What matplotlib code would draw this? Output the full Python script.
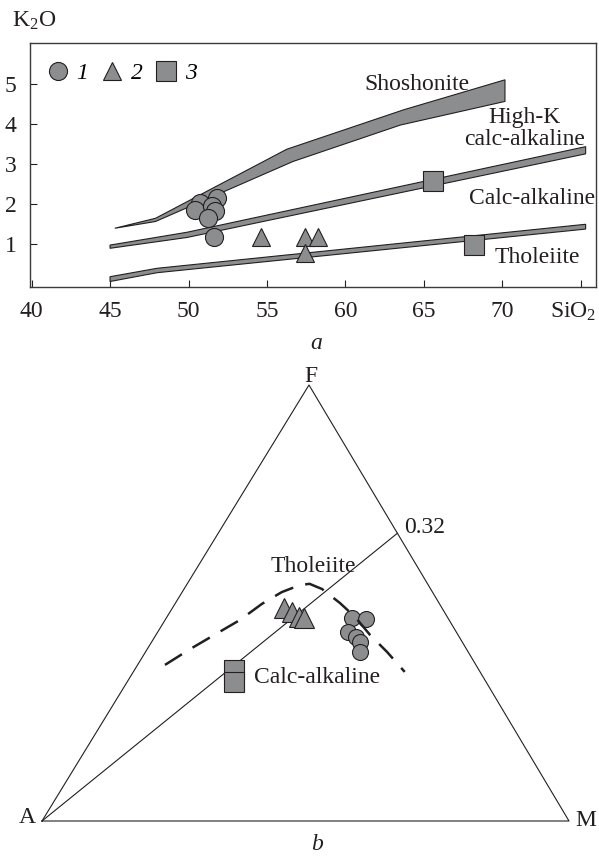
import matplotlib
matplotlib.use('Agg')
import matplotlib.pyplot as plt
from matplotlib.transforms import ScaledTranslation

plt.rcParams['font.family'] = ['Liberation Serif', 'DejaVu Serif']
plt.rcParams['mathtext.fontset'] = 'custom'
plt.rcParams['mathtext.rm'] = 'Liberation Serif'
plt.rcParams['mathtext.it'] = 'Liberation Serif:italic'

INK = '#231f20'
GREY = '#8c8d8f'
W, H = 599, 856
FS = 17

# ---- a: K2O vs SiO2 ----
sio2_1 = [50.73, 51.80, 50.41, 51.48, 51.69, 51.26, 51.62]
k2o_1 = [2.04, 2.15, 1.86, 1.96, 1.82, 1.65, 1.19]
sio2_2 = [54.6, 57.42, 58.27, 57.42]
k2o_2 = [1.17, 1.17, 1.17, 0.78]
sio2_3 = [65.55, 68.2]
k2o_3 = [2.57, 0.97]

# boundary bands: upper edge left->right, then lower edge back
shosh_x = [45.3, 47.9, 56.26, 63.7, 70.16, 70.16, 63.5, 56.66, 47.9]
shosh_y = [1.40, 1.65, 3.375, 4.36, 5.11, 4.57, 3.98, 3.07, 1.57]
highk_x = [45.0, 49.9, 75.3, 75.3, 49.9, 45.0]
highk_y = [0.98, 1.30, 3.44, 3.26, 1.17, 0.90]
thol_x = [45.0, 48.0, 75.3, 75.3, 48.0, 45.0]
thol_y = [0.19, 0.40, 1.50, 1.38, 0.29, 0.07]

x_ticks = [40, 45, 50, 55, 60, 65, 70, 75]
x_labels = ['40', '45', '50', '55', '60', '65', '70', 'SiO$_2$']
y_ticks = [1, 2, 3, 4, 5]

# ---- b: AFM diagram, (A, F, M) in % ----
afm_1 = [(18.3, 46.5, 35.2), (15.7, 46.3, 38.0), (20.5, 43.4, 36.1),
         (19.6, 42.3, 38.1), (19.4, 41.1, 39.5), (20.5, 38.8, 40.7)]
afm_2 = [(30.0, 48.9, 21.1), (28.9, 47.9, 23.2), (28.2, 46.8, 25.0),
         (27.3, 46.6, 26.1)]
afm_3 = [(46.5, 34.7, 18.8), (47.9, 31.8, 20.3)]
# tholeiite / calc-alkaline boundary (dashed)
afm_curve = [(59.0, 35.8, 5.2), (52.5, 39.4, 8.1), (46.2, 42.7, 11.1),
             (39.7, 46.1, 14.2), (33.7, 49.8, 16.5), (28.6, 52.5, 18.9),
             (24.4, 54.1, 21.5), (22.4, 54.4, 23.2), (20.6, 53.2, 26.2),
             (18.8, 50.0, 31.2), (17.5, 46.8, 35.7), (16.7, 42.7, 40.6),
             (15.4, 38.8, 45.8), (14.3, 34.2, 51.5)]
# straight line from A to the F-M side
afm_line = [(100, 0, 0), (0, 66, 34)]

F_X = 0.5066  # horizontal position of the F apex


def tern(pts):
    xs, ys = [], []
    for a, f, m in pts:
        s = a + f + m
        xs.append(m / s + f / s * F_X)
        ys.append(f / s)
    return xs, ys


def fpx(x, y):
    return x / W, 1 - y / H


fig = plt.figure(figsize=(W / 100, H / 100), dpi=100)

# top panel
ax = fig.add_axes([30 / W, 1 - 287 / H, 566 / W, 244 / H])
for bx_, by_ in [(shosh_x, shosh_y), (highk_x, highk_y), (thol_x, thol_y)]:
    ax.fill(bx_, by_, facecolor=GREY, edgecolor=INK, lw=0.8, zorder=2)

mk = dict(linestyle='none', markerfacecolor=GREY, markeredgecolor=INK,
          markeredgewidth=0.8, zorder=3)
ax.plot(sio2_1, k2o_1, marker='o', ms=13, label='1', **mk)
ax.plot(sio2_2, k2o_2, marker='^', ms=13, label='2', **mk)
ax.plot(sio2_3, k2o_3, marker='s', ms=14.5, label='3', **mk)

ax.set_xlim(39.9, 75.96)
ax.set_ylim(-0.0675, 6.03)
ax.set_xticks(x_ticks)
ax.set_xticklabels(x_labels)
ax.set_yticks(y_ticks)
ax.tick_params(direction='in', length=5, width=0.8, color=INK,
               labelsize=FS, labelcolor=INK)
ax.tick_params(axis='x', pad=10)
ax.tick_params(axis='y', pad=9.5)
for sp in ax.spines.values():
    sp.set_color('#3a3a3a')
    sp.set_linewidth(1.0)

# the SiO2 label sits a little left of its tick
sio_lab = ax.get_xticklabels()[-1]
sio_lab.set_transform(sio_lab.get_transform()
                      + ScaledTranslation(-0.08, 0, fig.dpi_scale_trans))

ax.legend(loc='center left', bbox_to_anchor=(0.028, 0.877), ncol=3,
          frameon=False, borderpad=0, borderaxespad=0, handlelength=1.0,
          handletextpad=0.3, columnspacing=0.5,
          prop={'style': 'italic', 'size': FS})

txt = dict(fontsize=FS, color=INK, va='baseline', ha='center')
ax.text(64.55, 4.86, 'Shoshonite', **txt)
ax.text(71.43, 4.02, 'High-K', **txt)
ax.text(71.43, 3.48, 'calc-alkaline', **txt)
ax.text(71.87, 2.0, 'Calc-alkaline', **txt)
ax.text(72.24, 0.525, 'Tholeiite', **txt)

fig.text(*fpx(11.7, 26.7), 'K$_2$O', fontsize=FS, color=INK,
         ha='left', va='baseline')
fig.text(*fpx(316, 349), 'a', fontsize=FS, color=INK, style='italic',
         ha='center', va='baseline')

# bottom panel: AFM triangle
bx = fig.add_axes([42 / W, 1 - 821 / H, 527 / W, 436 / H])
bx.set_xlim(0, 1)
bx.set_ylim(0, 1)
bx.axis('off')

tx, ty = tern([(100, 0, 0), (0, 0, 100), (0, 100, 0), (100, 0, 0)])
bx.plot(tx, ty, color=INK, lw=0.8, clip_on=False, zorder=1)
lx, ly = tern(afm_line)
bx.plot(lx, ly, color=INK, lw=0.8, clip_on=False, zorder=1)

cx, cy = tern(afm_curve)
dash, = bx.plot(cx, cy, color=INK, lw=1.8, clip_on=False, zorder=4)
dash.set_dashes((8, 5))

px_, py_ = tern(afm_1)
bx.plot(px_, py_, marker='o', ms=11.5, clip_on=False, **mk)
px_, py_ = tern(afm_2)
bx.plot(px_, py_, marker='^', ms=14, clip_on=False, **mk)
px_, py_ = tern(afm_3)
bx.plot(px_, py_, marker='s', ms=14, clip_on=False, **mk)

lab = dict(fontsize=FS, color=INK, va='baseline')
fig.text(*fpx(311, 382), 'F', ha='center', **lab)
fig.text(*fpx(27, 823), 'A', ha='center', **lab)
fig.text(*fpx(586, 826), 'M', ha='center', **lab)
fig.text(*fpx(404, 533), '0.32', ha='left', **lab)
fig.text(*fpx(313, 572), 'Tholeiite', ha='center', **lab)
fig.text(*fpx(317, 683), 'Calc-alkaline', ha='center', **lab)
fig.text(*fpx(317, 850), 'b', ha='center', style='italic', **lab)

fig.savefig('out.png', dpi=100)
